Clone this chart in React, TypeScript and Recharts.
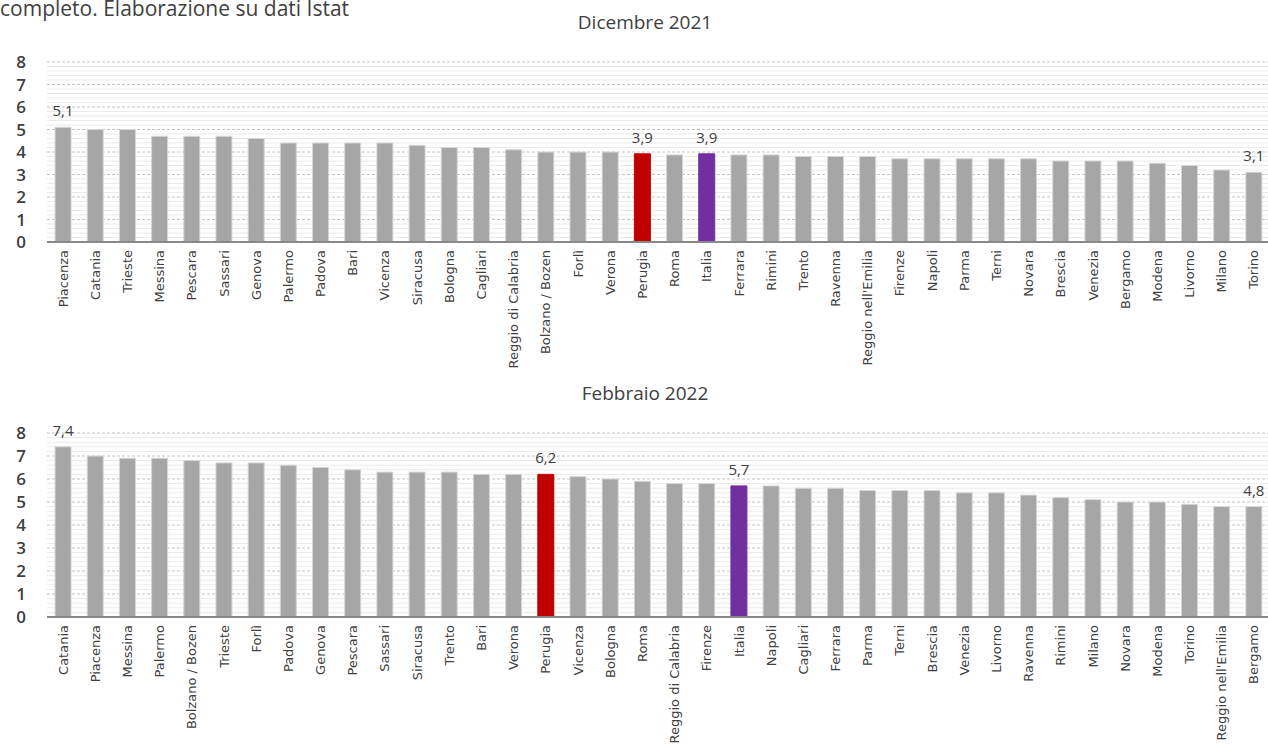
import React from "react";
import { BarChart, Bar, XAxis, YAxis, CartesianGrid, Cell, LabelList } from "recharts";

const categoriesDec = ["Piacenza","Catania","Trieste","Messina","Pescara","Sassari","Genova","Palermo","Padova","Bari","Vicenza","Siracusa","Bologna","Cagliari","Reggio di Calabria","Bolzano / Bozen","Forlì","Verona","Perugia","Roma","Italia","Ferrara","Rimini","Trento","Ravenna","Reggio nell'Emilia","Firenze","Napoli","Parma","Terni","Novara","Brescia","Venezia","Bergamo","Modena","Livorno","Milano","Torino"];
const valuesDec = [5.1,5.0,5.0,4.7,4.7,4.7,4.6,4.4,4.4,4.4,4.4,4.3,4.2,4.2,4.1,4.0,4.0,4.0,3.92,3.87,3.92,3.87,3.87,3.8,3.8,3.8,3.7,3.7,3.7,3.7,3.7,3.6,3.6,3.6,3.5,3.4,3.2,3.1];
const labeledDec = ["Piacenza","Perugia","Italia","Torino"];

const categoriesFeb = ["Catania","Piacenza","Messina","Palermo","Bolzano / Bozen","Trieste","Forlì","Padova","Genova","Pescara","Sassari","Siracusa","Trento","Bari","Verona","Perugia","Vicenza","Bologna","Roma","Reggio di Calabria","Firenze","Italia","Napoli","Cagliari","Ferrara","Parma","Terni","Brescia","Venezia","Livorno","Ravenna","Rimini","Milano","Novara","Modena","Torino","Reggio nell'Emilia","Bergamo"];
const valuesFeb = [7.4,7.0,6.9,6.9,6.8,6.7,6.7,6.6,6.5,6.4,6.3,6.3,6.3,6.2,6.2,6.2,6.1,6.0,5.9,5.8,5.8,5.7,5.7,5.6,5.6,5.5,5.5,5.5,5.4,5.4,5.3,5.2,5.1,5.0,5.0,4.9,4.8,4.8];
const labeledFeb = ["Catania","Perugia","Italia","Bergamo"];

const yTicks = [0,1,2,3,4,5,6,7,8];
const minorTicks = [0.2,0.4,0.6,0.8,1.2,1.4,1.6,1.8,2.2,2.4,2.6,2.8,3.2,3.4,3.6,3.8,4.2,4.4,4.6,4.8,5.2,5.4,5.6,5.8,6.2,6.4,6.6,6.8,7.2,7.4,7.6,7.8];

const titleTop = "Dicembre 2021";
const titleBottom = "Febbraio 2022";
const caption = "completo. Elaborazione su dati Istat";

const colorFor = (name: string) => (name === "Perugia" ? "#c00000" : name === "Italia" ? "#7030a0" : "#a6a6a6");

const XTick = (props: any) => {
  const { x, y, payload } = props;
  return (
    <text
      x={x}
      y={y}
      transform={`rotate(-90, ${x}, ${y})`}
      textAnchor="end"
      dx={-6}
      dy="0.35em"
      fontFamily="DejaVu Sans"
      fontSize={13}
      fill="#404040"
    >
      {payload.value}
    </text>
  );
};

const makeLabel = (data: any[], labeled: string[]) => (props: any) => {
  const { x, y, width, index, value } = props;
  const d = data[index];
  if (!d || !labeled.includes(d.name)) return null;
  return (
    <text
      x={Number(x) + Number(width) / 2}
      y={Number(y) - 11}
      textAnchor="middle"
      fontFamily="Open Sans"
      fontSize={15}
      fill="#404040"
    >
      {Number(value).toFixed(1).replace(".", ",")}
    </text>
  );
};

const Panel = ({ categories, values, labeled, height, marginTop, axisHeight }: any) => {
  const data = categories.map((name: string, i: number) => ({ name, value: values[i] }));
  return (
    <BarChart
      width={1270}
      height={height}
      data={data}
      margin={{ top: marginTop, right: 0, bottom: 0, left: 0 }}
      barCategoryGap="25%"
    >
      <CartesianGrid vertical={false} horizontalValues={minorTicks} stroke="#ebebeb" strokeWidth={1} />
      <CartesianGrid vertical={false} horizontalValues={yTicks} stroke="#c4c4c4" strokeDasharray="3 2" />
      <XAxis
        dataKey="name"
        interval={0}
        tick={<XTick />}
        tickLine={false}
        tickSize={0}
        height={axisHeight}
        axisLine={{ stroke: "#898989", strokeWidth: 2 }}
      />
      <YAxis
        domain={[0, 8]}
        ticks={yTicks}
        interval={0}
        width={47}
        axisLine={false}
        tickLine={false}
        tickSize={0}
        tickMargin={21}
        tick={{ fontFamily: "Open Sans", fontSize: 17, fontWeight: 600, fill: "#404040" }}
      />
      <Bar dataKey="value" isAnimationActive={false}>
        {data.map((d: any, i: number) => (
          <Cell
            key={i}
            fill={colorFor(d.name)}
            stroke={colorFor(d.name) === "#a6a6a6" ? "#d6d6d6" : colorFor(d.name)}
            strokeWidth={1}
          />
        ))}
        <LabelList dataKey="value" content={makeLabel(data, labeled)} />
      </Bar>
    </BarChart>
  );
};

export default function App() {
  return (
    <div
      style={{
        position: "absolute",
        left: 0,
        top: 0,
        width: 1268,
        height: 749,
        overflow: "hidden",
        background: "#ffffff",
      }}
    >
      <div
        style={{
          position: "absolute",
          left: 0,
          top: -5,
          fontFamily: "Open Sans",
          fontSize: 21,
          color: "#404040",
          whiteSpace: "nowrap",
          lineHeight: "26px",
        }}
      >
        {caption}
      </div>
      <div
        style={{
          position: "absolute",
          left: 0,
          width: 1290,
          top: 9,
          textAlign: "center",
          fontFamily: "Open Sans",
          fontSize: 19,
          color: "#404040",
          lineHeight: "26px",
        }}
      >
        {titleTop}
      </div>
      <div
        style={{
          position: "absolute",
          left: 0,
          width: 1290,
          top: 380,
          textAlign: "center",
          fontFamily: "Open Sans",
          fontSize: 19,
          color: "#404040",
          lineHeight: "26px",
        }}
      >
        {titleBottom}
      </div>
      <div style={{ position: "absolute", left: 0, top: 0 }}>
        <Panel categories={categoriesDec} values={valuesDec} labeled={labeledDec} height={380} marginTop={62} axisHeight={138} />
      </div>
      <div style={{ position: "absolute", left: 0, top: 380 }}>
        <Panel categories={categoriesFeb} values={valuesFeb} labeled={labeledFeb} height={369} marginTop={53} axisHeight={132} />
      </div>
    </div>
  );
}
